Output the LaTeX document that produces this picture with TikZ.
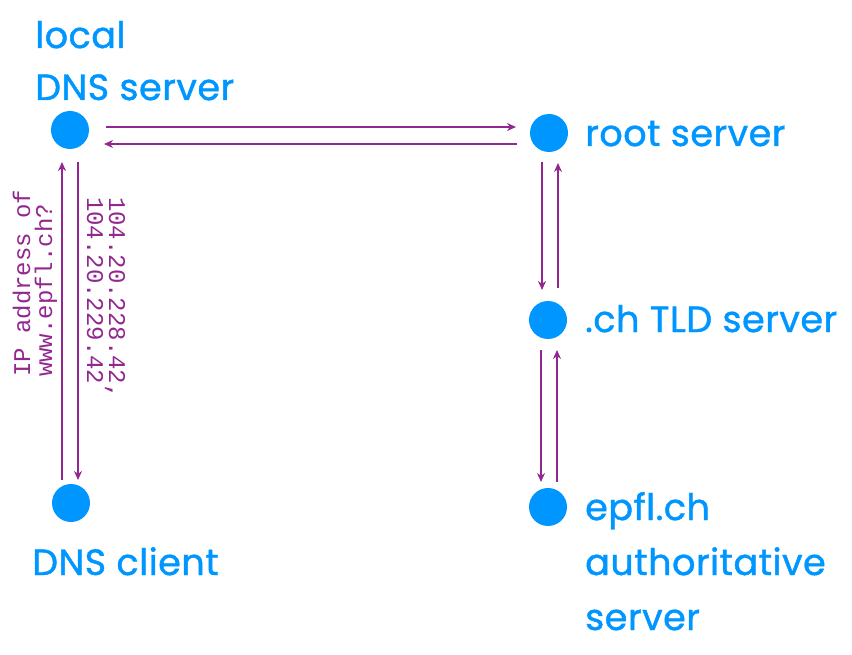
\documentclass[tikz,border=0pt]{standalone}
\usepackage{fontspec}
\setmainfont{Poppins}[FakeBold=1.2,LetterSpace=1.5]
\setmonofont{Liberation Mono}
\usetikzlibrary{arrows.meta}
\definecolor{dnsblue}{RGB}{0,150,255}
\definecolor{dnspurple}{RGB}{146,39,143}
\tikzset{
  dot/.style={circle,fill=dnsblue,draw=none,minimum size=38pt,inner sep=0pt},
  lbl/.style={text=dnsblue,font=\fontsize{36.5}{55}\selectfont,anchor=base west,inner sep=0pt,align=left},
  arr/.style={draw=dnspurple,line width=1.4pt,-{Stealth[length=9pt,width=8pt]}},
  monolbl/.style={text=dnspurple,font=\ttfamily\fontsize{24}{22}\selectfont,inner sep=0pt,align=left}
}
\begin{document}
\begin{tikzpicture}[x=1pt,y=-1pt]
\useasboundingbox (0,0) rectangle (852,655);
\node[dot] (local) at (70,130) {};
\node[dot] (root) at (549,133) {};
\node[dot] (tld) at (548,320) {};
\node[dot] (epfl) at (548,507) {};
\node[dot] (client) at (71,503) {};

\node[lbl] (loclbl) at (35,48) {local};
\node[lbl] (dnslbl) at (35,100) {DNS server};
\node[lbl] (rootlbl) at (585,146) {root server};
\node[lbl] (tldlbl) at (585,332) {.ch TLD server};
\node[lbl] (epfllbl) at (585,630) {epfl.ch\\authoritative\\server};
\node[lbl] (clientlbl) at (32,575) {DNS client};

\draw[arr] ([shift={(36,-3)}]local.center) -- ([shift={(-33,-6)}]root.center);
\draw[arr] ([shift={(-32,11)}]root.center) -- ([shift={(34,14)}]local.center);
\draw[arr] ([shift={(8,32)}]local.center) -- ([shift={(7,-23)}]client.center);
\draw[arr] ([shift={(-9,-23)}]client.center) -- ([shift={(-8,32)}]local.center);
\draw[arr] ([shift={(-7,29)}]root.center) -- ([shift={(-6,-30)}]tld.center);
\draw[arr] ([shift={(10,-32)}]tld.center) -- ([shift={(9,30)}]root.center);
\draw[arr] ([shift={(-7,30)}]tld.center) -- ([shift={(-7,-25)}]epfl.center);
\draw[arr] ([shift={(9,-25)}]epfl.center) -- ([shift={(9,30)}]tld.center);

\node[monolbl,rotate=90,anchor=west] (query) at (35,377) {IP address of\\www.epfl.ch?};
\node[monolbl,rotate=-90,anchor=west] (answer) at (106,197) {104.20.228.42,\\104.20.229.42};
\end{tikzpicture}
\end{document}
